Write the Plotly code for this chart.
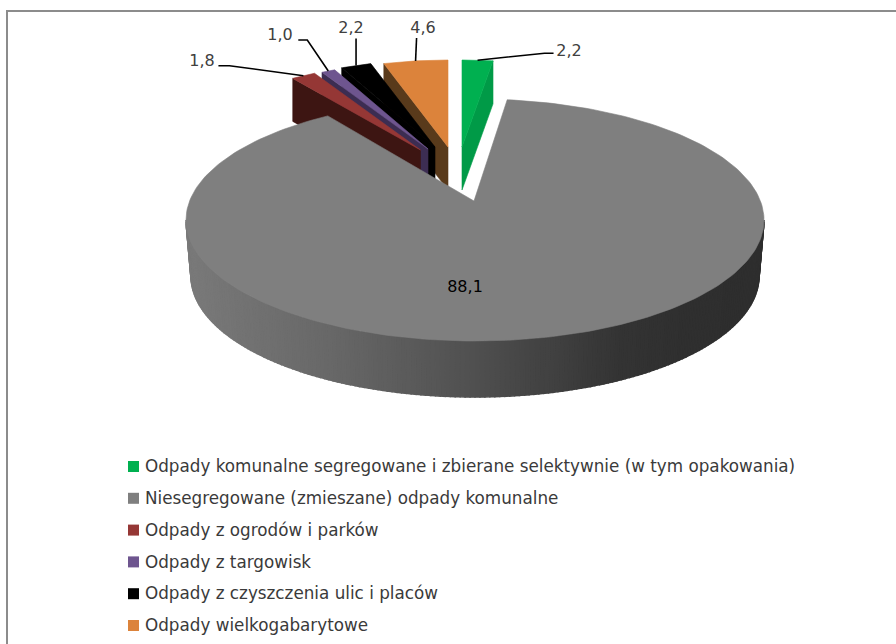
import numpy as np
import plotly.graph_objects as go

# ---- data ----
categories = [
    "Odpady komunalne segregowane i zbierane selektywnie (w tym opakowania)",
    "Niesegregowane (zmieszane) odpady komunalne",
    "Odpady z ogrodów i parków",
    "Odpady z targowisk",
    "Odpady z czyszczenia ulic i placów",
    "Odpady wielkogabarytowe",
]
values = [2.2, 88.1, 1.8, 1.0, 2.2, 4.6]
top_colors = ["#00B050", "#7F7F7F", "#953735", "#6E558F", "#000000", "#DC833B"]
side_colors = ["#009A47", "#555555", "#3D1512", "#3C2D52", "#000000", "#593A1B"]

# ---- pie geometry (pixel space of the page) ----
SMALL_RX, SMALL_RY, SMALL_DEPTH = 225, 87, 43
APEX = {0: (462, 147), 2: (420.5, 150), 3: (428, 149), 4: (435, 147), 5: (448, 147)}
MAIN_C = (475, 220)
MAIN_RX, MAIN_RY, MAIN_DEPTH, MAIN_RX_BOTTOM = 289, 121, 56, 284
MAIN_APEX = (474, 201)
MAIN_START, MAIN_STRETCH = 6.4, 1.0173
LEADERS = {
    0: [(67, -7), (76, -7)],
    2: [(-74, -10), (-85, -10)],
    3: [(-21, -31), (-30, -31)],
    4: [(0, -27)],
    5: [(1, -23)],
}
LABEL_POS = {0: (569, 52), 2: (202, 62), 3: (280, 36), 4: (351, 29), 5: (423, 29)}


def arc(cx, cy, rx, ry, a0, a1, n=40):
    t = np.radians(np.linspace(a0, a1, n))
    return cx + rx * np.sin(t), cy - ry * np.cos(t)


def poly(fig, xs, ys, color, name, width=0.6):
    fig.add_trace(go.Scatter(
        x=list(xs), y=list(ys), mode="lines", fill="toself", fillcolor=color,
        line=dict(color=color, width=width), hoverinfo="skip",
        showlegend=False, name=name))


# cumulative angle of each slice, clockwise from 12 o'clock
sweep = [v / sum(values) * 360 for v in values]
start = np.concatenate([[0], np.cumsum(sweep)[:-1]])

fig = go.Figure()

# exploded small slices, back to front
anchors = {}
for i in [5, 4, 3, 2, 0]:
    ax, ay = APEX[i]
    a0, a1 = start[i], start[i] + sweep[i]
    if a0 > 180:
        a0, a1 = a0 - 360, a1 - 360
    x, y = arc(ax, ay, SMALL_RX, SMALL_RY, a0, a1)
    # visible cut face: left edge for the left slices, right edge for the right one
    ex, ey = (x[-1], y[-1]) if i == 0 else (x[0], y[0])
    poly(fig, [ex, ax, ax, ex, ex],
         [ey, ay, ay + SMALL_DEPTH, ey + SMALL_DEPTH, ey], side_colors[i], categories[i])
    poly(fig, np.r_[ax, x, ax], np.r_[ay, y, ay], top_colors[i], categories[i])
    mx, my = arc(ax, ay, SMALL_RX, SMALL_RY, (a0 + a1) / 2, (a0 + a1) / 2, 1)
    anchors[i] = (mx[0], my[0])

# main slice: outer wall with horizontal gradient, then top face
phis = np.linspace(90, 270, 181)
gx, gv = [186, 330, 475, 620, 680, 764], [122, 104, 80, 52, 48, 46]
for p0, p1 in zip(phis[:-1], phis[1:]):
    tx, ty = arc(MAIN_C[0], MAIN_C[1], MAIN_RX, MAIN_RY, p0, p1, 3)
    bx, by = arc(MAIN_C[0], MAIN_C[1] + MAIN_DEPTH, MAIN_RX_BOTTOM, MAIN_RY, p0, p1, 3)
    g = int(np.interp(tx.mean(), gx, gv))
    poly(fig, np.r_[tx, bx[::-1], tx[0]], np.r_[ty, by[::-1], ty[0]],
         f"rgb({g},{g},{g})", categories[1], 1.5)

a0 = MAIN_START
a1 = MAIN_START + sweep[1] * MAIN_STRETCH
x, y = arc(MAIN_C[0], MAIN_C[1], MAIN_RX, MAIN_RY, a0, a1, 240)
poly(fig, np.r_[MAIN_APEX[0], x, MAIN_APEX[0]], np.r_[MAIN_APEX[1], y, MAIN_APEX[1]],
     top_colors[1], categories[1])

label_font = dict(family="DejaVu Sans", size=16, color="#404040")

# leader lines and data labels
for i, offs in LEADERS.items():
    mx, my = anchors[i]
    fig.add_trace(go.Scatter(
        x=[mx] + [mx + o[0] for o in offs], y=[my] + [my + o[1] for o in offs],
        mode="lines", line=dict(color="#000000", width=1.6),
        hoverinfo="skip", showlegend=False))
    fig.add_trace(go.Scatter(
        x=[LABEL_POS[i][0]], y=[LABEL_POS[i][1]], mode="text",
        text=[f"{values[i]:.1f}".replace(".", ",")], textposition="middle center",
        textfont=label_font, hoverinfo="skip", showlegend=False))
fig.add_trace(go.Scatter(
    x=[465], y=[288], mode="text", text=[f"{values[1]:.1f}".replace(".", ",")],
    textposition="middle center",
    textfont=dict(family="DejaVu Sans", size=16, color="#000000"),
    hoverinfo="skip", showlegend=False))

# legend drawn in place
for i, (c, col) in enumerate(zip(categories, top_colors)):
    ly = 466.5 + i * 31.8
    fig.add_trace(go.Scatter(
        x=[133.5], y=[ly], mode="markers",
        marker=dict(symbol="square", size=11, color=col),
        hoverinfo="skip", showlegend=False))
    fig.add_trace(go.Scatter(
        x=[145], y=[ly + 1.5], mode="text", text=[c], textposition="middle right",
        textfont=dict(family="DejaVu Sans", size=16.8, color="#3A3A3A"),
        hoverinfo="skip", showlegend=False))

fig.update_layout(
    width=896, height=644, margin=dict(l=0, r=0, t=0, b=0),
    paper_bgcolor="white", plot_bgcolor="white", showlegend=False,
    xaxis=dict(range=[0, 896], visible=False, fixedrange=True),
    yaxis=dict(range=[644, 0], visible=False, fixedrange=True),
    shapes=[
        dict(type="line", xref="x", yref="y", x0=6, x1=896, y0=11, y1=11,
             line=dict(color="#8C8C8C", width=2)),
        dict(type="line", xref="x", yref="y", x0=7, x1=7, y0=10, y1=644,
             line=dict(color="#8C8C8C", width=2)),
    ],
)
fig.write_html("out.html", config=dict(displayModeBar=False),
               post_script="document.body.style.margin='0';document.body.style.overflow='hidden';")
